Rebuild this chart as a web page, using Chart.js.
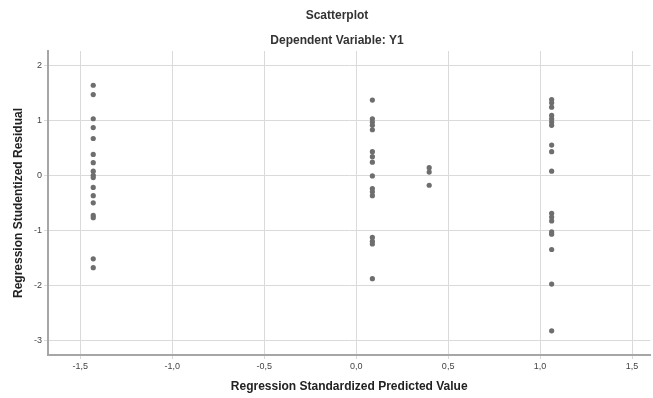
<!DOCTYPE html>
<html>
<head>
<meta charset="utf-8">
<script src="https://cdn.jsdelivr.net/npm/chart.js@4"></script>
<style>
  html, body { margin: 0; padding: 0; background: #fff; }
  #wrap { width: 653px; height: 398px; }
</style>
</head>
<body>
<div id="wrap"><canvas id="scatterChart"></canvas></div>
<script>
// predicted value (x) of each vertical column of points
const predictedValues = [-1.43, 0.088, 0.397, 1.063];

// studentized residuals in each column
const residualsCol1 = [1.65, 1.48, 1.04, 0.88, 0.68, 0.39, 0.24, 0.085, 0.01, -0.03, -0.21, -0.36, -0.49, -0.72, -0.76, -1.51, -1.67];
const residualsCol2 = [1.38, 1.04, 0.98, 0.92, 0.84, 0.44, 0.35, 0.25, 0.0, -0.23, -0.29, -0.36, -1.12, -1.19, -1.24, -1.87];
const residualsCol3 = [0.15, 0.07, -0.17];
const residualsCol4 = [1.39, 1.33, 1.25, 1.10, 1.04, 0.98, 0.92, 0.56, 0.44, 0.085, -0.68, -0.75, -0.82, -1.02, -1.06, -1.34, -1.97, -2.82];

const xTicks = [-1.5, -1.0, -0.5, 0.0, 0.5, 1.0, 1.5];
const xTickLabels = ['-1,5', '-1,0', '-0,5', '0,0', '0,5', '1,0', '1,5'];
const yTicks = [-3, -2, -1, 0, 1, 2];
const yTickLabels = ['-3', '-2', '-1', '0', '1', '2'];

const columns = [residualsCol1, residualsCol2, residualsCol3, residualsCol4];
const points = [];
columns.forEach((col, i) => {
    col.forEach(r => points.push({ x: predictedValues[i], y: r }));
});

const FONT = '"Liberation Sans", Arial, sans-serif';

// the two title lines, centred the way the original has them
const titlesPlugin = {
    id: 'titles',
    afterDraw(chart) {
        const ctx = chart.ctx;
        ctx.save();
        ctx.fillStyle = '#333';
        ctx.textAlign = 'center';
        ctx.textBaseline = 'middle';
        ctx.font = 'bold 12px ' + FONT;
        ctx.fillText('Scatterplot', 337, 16);
        ctx.fillText('Dependent Variable: Y1', 337, 41);
        ctx.restore();
    }
};

const ctx = document.getElementById('scatterChart').getContext('2d');
const chart = new Chart(ctx, {
    type: 'scatter',
    data: {
        datasets: [{
            data: points,
            backgroundColor: '#6e6e6e',
            borderColor: '#6e6e6e',
            borderWidth: 0,
            pointRadius: 2.6,
            pointHoverRadius: 2.6,
        }]
    },
    options: {
        responsive: true,
        maintainAspectRatio: false,
        animation: false,
        layout: { padding: { top: 51, right: 0, left: 0, bottom: 0 } },
        plugins: {
            legend: { display: false },
            tooltip: { enabled: false },
        },
        scales: {
            x: {
                type: 'linear',
                min: -1.676,
                max: 1.60,
                afterBuildTicks: scale => { scale.ticks = xTicks.map(v => ({ value: v })); },
                afterFit: scale => { scale.height = 43; },
                ticks: {
                    callback: (v) => xTickLabels[xTicks.indexOf(v)],
                    color: '#444',
                    font: { family: FONT, size: 9 },
                    padding: 2,
                    maxRotation: 0,
                },
                grid: { color: '#dadada', lineWidth: 1, tickLength: 4 },
                border: { color: '#a6a6a6', width: 2 },
                title: {
                    display: true,
                    text: 'Regression Standardized Predicted Value',
                    color: '#222',
                    font: { family: FONT, size: 12, weight: 'bold' },
                    padding: { top: 4, bottom: 4 },
                },
            },
            y: {
                type: 'linear',
                min: -3.26,
                max: 2.273,
                afterBuildTicks: scale => { scale.ticks = yTicks.map(v => ({ value: v })); },
                afterFit: scale => { scale.width = 48; },
                ticks: {
                    callback: (v) => yTickLabels[yTicks.indexOf(v)],
                    color: '#444',
                    font: { family: FONT, size: 9 },
                    padding: 2,
                },
                grid: { color: '#dadada', lineWidth: 1, tickLength: 4 },
                border: { color: '#a6a6a6', width: 2 },
                title: {
                    display: true,
                    text: 'Regression Studentized Residual',
                    color: '#222',
                    font: { family: FONT, size: 12, weight: 'bold' },
                    padding: { top: 11, bottom: 4 },
                },
            },
        },
    },
    plugins: [titlesPlugin],
});
</script>
</body>
</html>
